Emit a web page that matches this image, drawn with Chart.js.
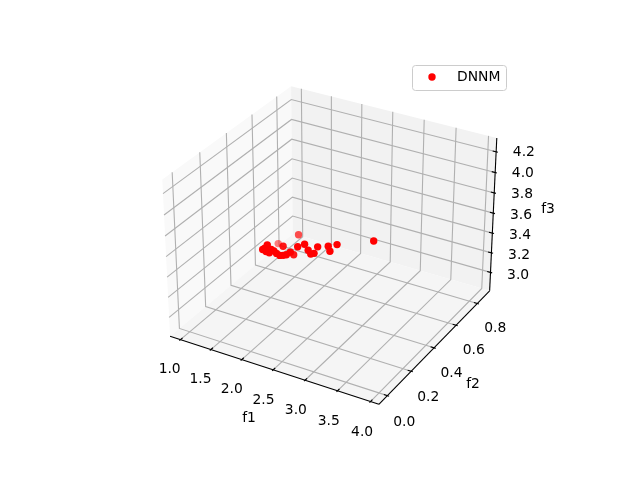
<!DOCTYPE html>
<html lang="en">
<head>
<meta charset="UTF-8">
<title>DNNM</title>
<script src="https://cdn.jsdelivr.net/npm/chart.js"></script>
<style>
body { margin: 0; background: #fff; }
canvas { display: block; }
</style>
</head>
<body>
<canvas id="chart" width="640" height="480"></canvas>
<script>
const seriesName = 'DNNM';
const f1Values = [2.322, 2.303, 2.285, 2.329, 2.370, 2.382, 2.416, 2.455, 2.499, 2.536, 2.571, 2.608, 2.373, 2.284, 0.976, 1.753, 2.673, 2.743, 2.803, 2.846, 2.881, 2.901, 3.019, 3.054, 3.114, 3.856];
const f2Values = [-0.011, -0.021, -0.028, -0.024, -0.020, -0.011, -0.008, -0.007, -0.004, 0.003, 0.010, 0.022, 0.163, 0.126, 0.721, 0.510, 0.046, 0.064, 0.061, 0.059, 0.067, 0.085, 0.107, 0.102, 0.127, 0.020];
const f3Values = [3.920, 3.898, 3.889, 3.874, 3.865, 3.889, 3.879, 3.861, 3.847, 3.847, 3.852, 3.870, 3.656, 3.759, 2.936, 3.382, 3.907, 3.925, 3.883, 3.856, 3.861, 3.907, 3.911, 3.876, 3.923, 4.200];

const f1Ticks = [1.0, 1.5, 2.0, 2.5, 3.0, 3.5, 4.0];
const f2Ticks = [0.0, 0.2, 0.4, 0.6, 0.8];
const f3Ticks = [3.0, 3.2, 3.4, 3.6, 3.8, 4.0, 4.2];
const f1Lim = [0.893, 4.06], f2Lim = [-0.05, 0.9], f3Lim = [2.84, 4.302];

// same camera as a default mplot3d view
const el = 30 * Math.PI / 180, az = -60 * Math.PI / 180, dist = 10;
const box = [1.164, 1.164, 0.873];
const dot = (a, b) => a[0]*b[0] + a[1]*b[1] + a[2]*b[2];
const w = [Math.cos(el)*Math.cos(az), Math.cos(el)*Math.sin(az), Math.sin(el)];
const eye = [box[0]/2 + dist*w[0], box[1]/2 + dist*w[1], box[2]/2 + dist*w[2]];
const un = Math.hypot(w[0], w[1]);
const u = [-w[1]/un, w[0]/un, 0];
const v = [w[1]*u[2]-w[2]*u[1], w[2]*u[0]-w[0]*u[2], w[0]*u[1]-w[1]*u[0]];

function project(x, y, z) {
    const p = [(x-f1Lim[0])/(f1Lim[1]-f1Lim[0])*box[0] - eye[0],
               (y-f2Lim[0])/(f2Lim[1]-f2Lim[0])*box[1] - eye[1],
               (z-f3Lim[0])/(f3Lim[1]-f3Lim[0])*box[2] - eye[2]];
    const ze = dot(w, p);
    return { x: 143.2 + 369.6*(dot(u, p)/-ze + 0.095)/0.185,
             y: 427.2 - 369.6*(dot(v, p)/-ze + 0.095)/0.185,
             depth: ze };
}

const pad = (lim) => { const d = (lim[1]-lim[0])/48; return [lim[0]-d, lim[1]+d]; };
const [x0, x1] = pad(f1Lim), [y0, y1] = pad(f2Lim), [z0, z1] = pad(f3Lim);
const path = (pts) => pts.map(p => project(p[0], p[1], p[2]));

const lineSets = [];
const addLine = (pts, color) => lineSets.push({ data: path(pts), showLine: true, pointRadius: 0, borderColor: color, borderWidth: 1.1, fill: false });
const addPane = (pts, color) => lineSets.push({ data: path(pts), showLine: true, pointRadius: 0, borderWidth: 0, borderColor: color, backgroundColor: color, fill: 'shape' });

const gridColor = '#b0b0b0', axisColor = '#000000';
const tickLen = (lim) => (lim[1]-lim[0])/12;
const marks = [];
// first dataset is drawn on top, so ticks and axes go before grid and panes
f1Ticks.forEach(t => marks.push([[t, y0 + .2*tickLen(f2Lim), z0], [t, y0 - .1*tickLen(f2Lim), z0]]));
f2Ticks.forEach(t => marks.push([[x1 - .2*tickLen(f1Lim), t, z0], [x1 + .1*tickLen(f1Lim), t, z0]]));
f3Ticks.forEach(t => marks.push([[x1 - .2*tickLen(f1Lim), y1, t], [x1 + .1*tickLen(f1Lim), y1, t]]));
marks.push([[x0, y0, z0], [x1, y0, z0]], [[x1, y0, z0], [x1, y1, z0]], [[x1, y1, z0], [x1, y1, z1]]);
marks.forEach(m => addLine(m, axisColor));
f1Ticks.forEach(t => addLine([[t, y0, z0], [t, y1, z0], [t, y1, z1]], gridColor));
f2Ticks.forEach(t => addLine([[x1, t, z0], [x0, t, z0], [x0, t, z1]], gridColor));
f3Ticks.forEach(t => addLine([[x0, y0, t], [x0, y1, t], [x1, y1, t]], gridColor));
addPane([[x0,y0,z0],[x1,y0,z0],[x1,y1,z0],[x0,y1,z0]], '#f5f5f5');
addPane([[x0,y1,z0],[x1,y1,z0],[x1,y1,z1],[x0,y1,z1]], '#f2f2f2');
addPane([[x0,y0,z0],[x0,y1,z0],[x0,y1,z1],[x0,y0,z1]], '#f9f9f9');

// far points first and paler
const order = f1Values.map((f, i) => project(f, f2Values[i], f3Values[i])).sort((a, b) => a.depth - b.depth);
const depths = order.map(p => p.depth);
const dMin = Math.min(...depths), dMax = Math.max(...depths);
const alphaOf = (d) => Math.min(1, 0.5 + 0.62*(d-dMin)/(dMax-dMin));

const textPlugin = {
    id: 'labels3d',
    afterDraw(chart) {
        const ctx = chart.ctx;
        ctx.save();
        ctx.font = '13.89px "DejaVu Sans"';
        ctx.textAlign = 'center';
        ctx.textBaseline = 'middle';
        ctx.fillStyle = '#000';
        const at = (text, p, dx, dy) => ctx.fillText(text, p.x + dx, p.y + dy);
        f1Ticks.forEach(t => at(t.toFixed(1), project(t, y0, z0), -9, 28));
        f2Ticks.forEach(t => at(t.toFixed(1), project(x1, t, z0), 16, 24));
        f3Ticks.forEach(t => at(t.toFixed(1), project(x1, y1, t), 25.5, 2.5));
        ctx.fillText('f1', 249, 418);
        ctx.fillText('f2', 473, 384);
        ctx.fillText('f3', 548, 209);
        ctx.beginPath();
        ctx.roundRect(412.5, 65.5, 94, 25, 3);
        ctx.fillStyle = 'rgba(255,255,255,0.8)';
        ctx.fill();
        ctx.strokeStyle = '#cccccc';
        ctx.lineWidth = 1;
        ctx.stroke();
        ctx.beginPath();
        ctx.arc(432, 77, 3.7, 0, Math.PI*2);
        ctx.fillStyle = '#ff0000';
        ctx.fill();
        ctx.fillStyle = '#000';
        ctx.textAlign = 'left';
        ctx.fillText(seriesName, 457, 77.5);
        ctx.restore();
    }
};

new Chart(document.getElementById('chart'), {
    type: 'scatter',
    data: { datasets: [{
        label: seriesName,
        data: order.map(p => ({ x: p.x, y: p.y })),
        pointRadius: 3.7,
        pointBorderWidth: 0,
        pointBackgroundColor: depths.map(d => `rgba(255,0,0,${alphaOf(d)})`)
    }].concat(lineSets) },
    options: {
        responsive: false,
        animation: false,
        events: [],
        layout: { padding: 0 },
        plugins: { legend: { display: false }, tooltip: { enabled: false } },
        scales: {
            x: { type: 'linear', min: 0, max: 640, display: false },
            y: { type: 'linear', min: 0, max: 480, reverse: true, display: false }
        }
    },
    plugins: [textPlugin]
});
</script>
</body>
</html>
